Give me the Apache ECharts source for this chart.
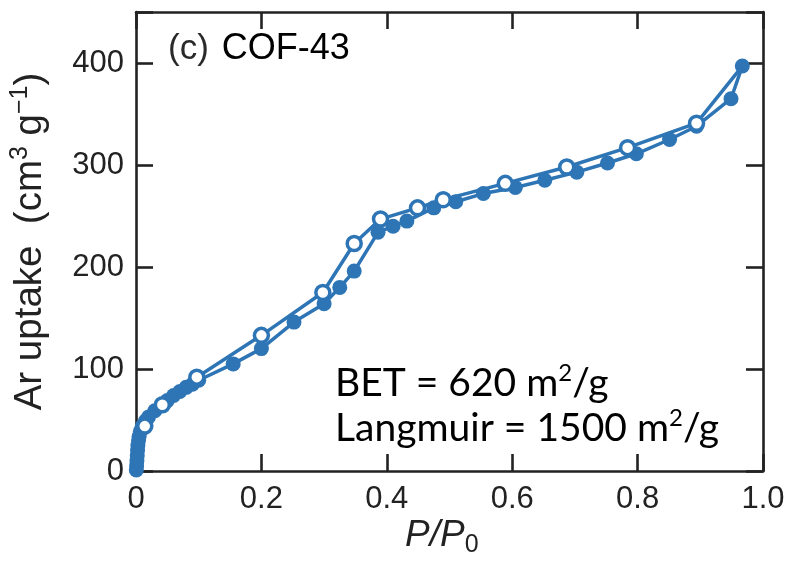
<!DOCTYPE html>
<html>
<head>
<meta charset="utf-8">
<script src="https://cdn.jsdelivr.net/npm/echarts@6/dist/echarts.min.js"></script>
<style>
  html, body { margin: 0; padding: 0; background: #fff; }
  #chart { width: 788px; height: 562px; }
</style>
</head>
<body>
<div id="chart"></div>
<script>
// Ar isotherm of COF-43 (87 K): adsorption (filled) and desorption (open)
const adsP = [0.0005, 0.001, 0.0015, 0.002, 0.0025, 0.003, 0.004, 0.005, 0.007, 0.01,
              0.015, 0.02, 0.03, 0.04, 0.05, 0.06, 0.07, 0.08, 0.09, 0.1,
              0.155, 0.2, 0.252, 0.3, 0.325, 0.348, 0.386, 0.41, 0.432, 0.475, 0.51,
              0.554, 0.605, 0.652, 0.703, 0.752, 0.798, 0.851, 0.894, 0.949, 0.967];
const adsV = [1, 5, 10, 15, 20, 25, 30, 34, 39, 44,
              49, 53, 59, 64, 69, 74, 78, 82, 85, 89,
              105, 120, 146, 164, 180, 196, 234, 240, 245, 258, 264,
              272, 278, 285, 293, 302, 311, 325, 338, 365, 397];

const desP = [0.967, 0.894, 0.784, 0.687, 0.589, 0.49, 0.449, 0.39, 0.348, 0.298,
              0.2, 0.097, 0.042, 0.014];
const desV = [397, 341, 317, 298, 282, 266, 258, 247, 223, 175,
              133, 92, 65, 44];

const xTicks = [0, 0.2, 0.4, 0.6, 0.8, 1.0];
const yTicks = [0, 100, 200, 300, 400];

const BLUE = '#2e75b6';
const INK = '#222';
const FONT = 'Liberation Sans, Arial, sans-serif';

const adsData = adsP.map((p, i) => [p, adsV[i]]);
// the first desorption point coincides with the last adsorption point
const desData = desP.map((p, i) => i === 0
  ? { value: [p, desV[i]], symbol: 'none' }
  : [p, desV[i]]);

// boxed frame: every side is an axis line with inward ticks
const frameLine = () => ({ show: true, onZero: false, lineStyle: { color: INK, width: 2.6 } });
const frameTick = () => ({ show: true, inside: true, length: 17, lineStyle: { color: INK, width: 2.6 } });

const chart = echarts.init(document.getElementById('chart'), null, { renderer: 'canvas' });
chart.setOption({
  animation: false,
  backgroundColor: '#fff',
  grid: { left: 134, right: 25, top: 12, bottom: 91, containLabel: false },
  xAxis: [
    {
      type: 'value', position: 'bottom', min: 0, max: 1, interval: 0.2,
      axisLine: frameLine(), axisTick: frameTick(), splitLine: { show: false },
      axisLabel: {
        color: INK, fontFamily: FONT, fontSize: 31, margin: 13,
        formatter: v => (xTicks.includes(+v.toFixed(1)) ? (v === 0 ? '0' : v.toFixed(1)) : '')
      }
    },
    {
      type: 'value', position: 'top', min: 0, max: 1, interval: 0.2,
      axisLine: frameLine(), axisTick: frameTick(), splitLine: { show: false },
      axisLabel: { show: false }
    }
  ],
  yAxis: [
    {
      type: 'value', position: 'left', min: 0, max: 450, interval: 100,
      axisLine: frameLine(), axisTick: frameTick(), splitLine: { show: false },
      axisLabel: {
        color: INK, fontFamily: FONT, fontSize: 31, margin: 12,
        formatter: v => (yTicks.includes(v) ? String(v) : '')
      },
      name: '{t|Ar uptake  (cm}{s|3}{t| g}{s|−1}{t|)}',
      nameLocation: 'middle', nameRotate: 90, nameGap: 84,
      nameTextStyle: {
        rich: {
          t: { fontFamily: FONT, fontSize: 38.5, color: INK, lineHeight: 44 },
          s: { fontFamily: FONT, fontSize: 25, color: INK, lineHeight: 28, verticalAlign: 'top' }
        }
      }
    },
    {
      type: 'value', position: 'right', min: 0, max: 450, interval: 100,
      axisLine: frameLine(), axisTick: frameTick(), splitLine: { show: false },
      axisLabel: { show: false }
    }
  ],
  graphic: [
    {
      type: 'text', left: 405, top: 517,
      style: {
        text: '{i|P}{i|/}{i|P}{b|0}',
        rich: {
          i: { fontFamily: FONT, fontSize: 37, fontStyle: 'italic', fill: INK, lineHeight: 44 },
          b: { fontFamily: FONT, fontSize: 25, fill: INK, lineHeight: 26, verticalAlign: 'bottom' }
        }
      }
    },
    {
      type: 'text', left: 168, top: 31,
      style: {
        text: '{c|(c)}{n|COF-43}',
        rich: {
          c: { fontFamily: FONT, fontSize: 35, fill: '#2a2a2a', lineHeight: 44, padding: [0, 13, 0, 0] },
          n: { fontFamily: FONT, fontSize: 36, fill: '#000', lineHeight: 44 }
        }
      }
    },
    {
      type: 'text', left: 335, top: 361,
      style: {
        text: '{t|BET = 620 m}{s|2}{t|/g}\n{t|Langmuir = 1500 m}{s|2}{t|/g}',
        rich: {
          t: { fontFamily: 'Lato, sans-serif', fontSize: 39, fill: '#000', lineHeight: 45 },
          s: { fontFamily: 'Lato, sans-serif', fontSize: 24, fill: '#000', lineHeight: 32, verticalAlign: 'top' }
        }
      }
    }
  ],
  series: [
    {
      name: 'adsorption', type: 'line', xAxisIndex: 0, yAxisIndex: 0,
      data: adsData, z: 2,
      symbol: 'circle', symbolSize: 15,
      lineStyle: { color: BLUE, width: 3.5 },
      itemStyle: { color: BLUE, borderWidth: 0 }
    },
    {
      name: 'desorption', type: 'line', xAxisIndex: 0, yAxisIndex: 0,
      data: desData, z: 3,
      symbol: 'circle', symbolSize: 14, showAllSymbol: true,
      lineStyle: { color: BLUE, width: 3.5 },
      itemStyle: { color: '#fff', borderColor: BLUE, borderWidth: 3.5 }
    }
  ]
});
</script>
</body>
</html>
